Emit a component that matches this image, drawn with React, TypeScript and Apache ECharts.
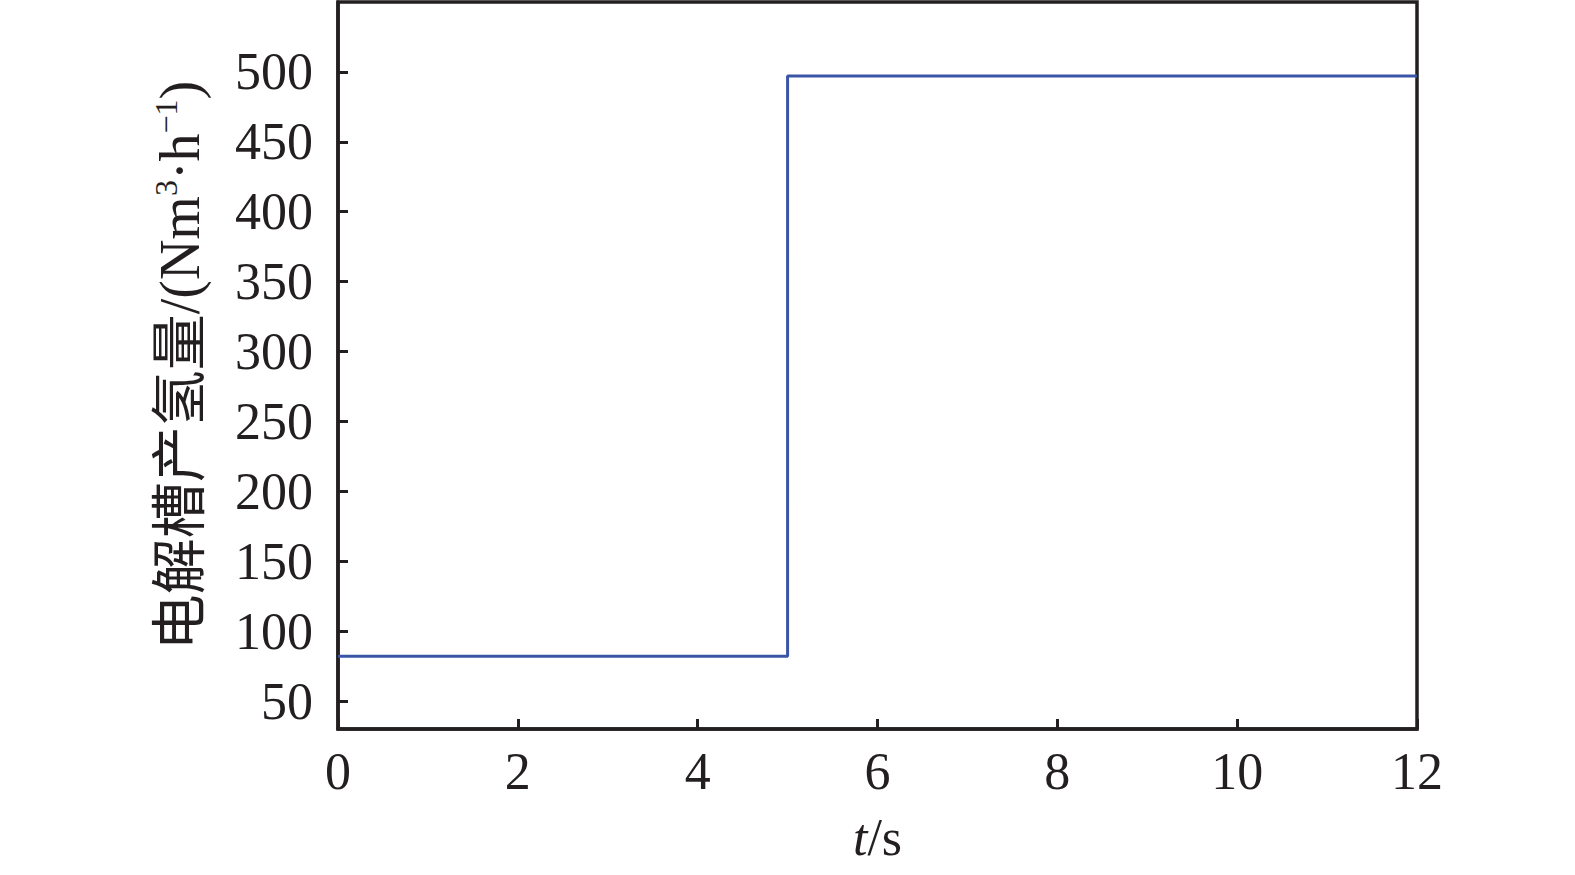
import React, { useEffect, useRef } from "react";
import * as echarts from "echarts";

const timeValues = [0, 5, 5, 12];
const hydrogenValues = [82, 82, 497, 497];
const xTicks = [0, 2, 4, 6, 8, 10, 12];
const yTicks = [50, 100, 150, 200, 250, 300, 350, 400, 450, 500];

export default function App() {
  const ref = useRef<HTMLDivElement>(null);
  useEffect(() => {
    if (!ref.current) return;
    const chart = echarts.init(ref.current, undefined, { renderer: "svg" });
    const axisColor = "#231f20";
    const serif = "'Liberation Serif', 'Times New Roman', serif";
    chart.setOption({
      animation: false,
      backgroundColor: "#ffffff",
      grid: {
        left: 338,
        right: 158,
        top: 2,
        bottom: 146,
        show: true,
        borderColor: axisColor,
        borderWidth: 3.5,
        backgroundColor: "transparent",
      },
      xAxis: {
        type: "value",
        min: 0,
        max: 12,
        interval: 2,
        axisLine: { show: true, lineStyle: { color: axisColor, width: 3.5 } },
        axisTick: { show: true, inside: true, length: 10, lineStyle: { color: axisColor, width: 3 } },
        splitLine: { show: false },
        axisLabel: {
          color: axisColor,
          fontFamily: serif,
          fontSize: 52,
          margin: 16,
          customValues: xTicks,
        },
        name: "{i|t}/s",
        nameLocation: "middle",
        nameGap: 82,
        nameTextStyle: {
          color: axisColor,
          fontFamily: serif,
          fontSize: 52,
          rich: {
            i: { fontFamily: serif, fontSize: 52, fontStyle: "italic", color: axisColor },
          },
        },
      },
      yAxis: {
        type: "value",
        min: 30,
        max: 550,
        axisLine: { show: true, lineStyle: { color: axisColor, width: 3.5 } },
        axisTick: {
          show: true,
          inside: true,
          length: 10,
          customValues: yTicks,
          lineStyle: { color: axisColor, width: 3 },
        },
        splitLine: { show: false },
        axisLabel: {
          color: axisColor,
          fontFamily: serif,
          fontSize: 52,
          margin: 25,
          customValues: yTicks,
        },
        name: "电解槽产氢量/(Nm{sup|3}·h{sup|−1})",
        nameLocation: "middle",
        nameGap: 128,
        nameTextStyle: {
          color: axisColor,
          fontFamily: "'Liberation Serif', 'Noto Sans CJK SC', serif",
          fontSize: 56,
          lineHeight: 60,
          rich: {
            sup: {
              fontFamily: serif,
              fontSize: 32,
              color: axisColor,
              verticalAlign: "top",
              lineHeight: 60,
            },
          },
        },
      },
      series: [
        {
          type: "line",
          data: timeValues.map((t, i) => [t, hydrogenValues[i]]),
          showSymbol: false,
          symbol: "none",
          lineStyle: { color: "#3a55a5", width: 3 },
          itemStyle: { color: "#3a55a5" },
          clip: true,
        },
      ],
    });
    return () => chart.dispose();
  }, []);
  return (
    <div
      ref={ref}
      style={{ position: "fixed", left: 0, top: 0, width: 1575, height: 875, background: "#fff" }}
    />
  );
}
